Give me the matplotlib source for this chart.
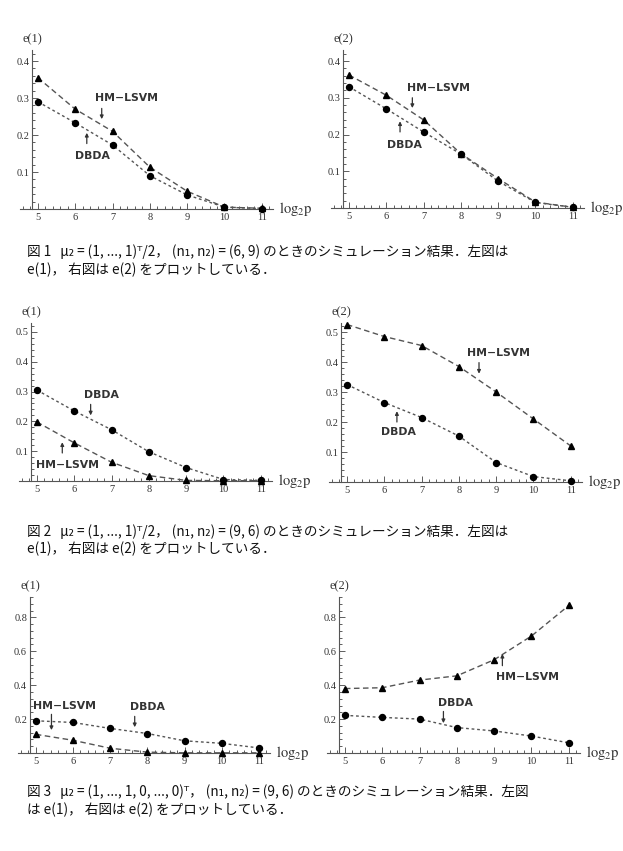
import matplotlib
matplotlib.use("Agg")
import matplotlib.pyplot as plt
from matplotlib.ticker import MultipleLocator, FixedLocator

plt.rcParams['mathtext.fontset'] = 'stix'

log2p = [5, 6, 7, 8, 9, 10, 11]

# Fig 1
f1_e1_hm = [0.355, 0.270, 0.210, 0.113, 0.048, 0.005, 0.002]
f1_e1_db = [0.290, 0.233, 0.173, 0.090, 0.038, 0.005, 0.001]
f1_e2_hm = [0.362, 0.307, 0.240, 0.148, 0.080, 0.016, 0.002]
f1_e2_db = [0.330, 0.270, 0.207, 0.147, 0.073, 0.015, 0.002]
# Fig 2
f2_e1_hm = [0.198, 0.128, 0.063, 0.018, 0.002, 0.001, 0.001]
f2_e1_db = [0.305, 0.235, 0.172, 0.098, 0.045, 0.005, 0.002]
f2_e2_hm = [0.525, 0.485, 0.455, 0.385, 0.300, 0.210, 0.120]
f2_e2_db = [0.325, 0.265, 0.215, 0.153, 0.065, 0.018, 0.004]
# Fig 3
f3_e1_hm = [0.110, 0.075, 0.028, 0.005, 0.001, 0.001, 0.001]
f3_e1_db = [0.190, 0.180, 0.145, 0.115, 0.072, 0.057, 0.030]
f3_e2_hm = [0.380, 0.385, 0.430, 0.455, 0.550, 0.690, 0.870]
f3_e2_db = [0.222, 0.210, 0.200, 0.150, 0.130, 0.100, 0.060]

ylabels = ["e(1)", "e(2)"]

captions = [
    ["図 1   μ₂ = (1, ..., 1)ᵀ/2， (n₁, n₂) = (6, 9) のときのシミュレーション結果．左図は",
     "e(1)， 右図は e(2) をプロットしている．"],
    ["図 2   μ₂ = (1, ..., 1)ᵀ/2， (n₁, n₂) = (9, 6) のときのシミュレーション結果．左図は",
     "e(1)， 右図は e(2) をプロットしている．"],
    ["図 3   μ₂ = (1, ..., 1, 0, ..., 0)ᵀ， (n₁, n₂) = (9, 6) のときのシミュレーション結果．左図",
     "は e(1)， 右図は e(2) をプロットしている．"],
]

W, H = 623, 851
fig = plt.figure(figsize=(W / 100, H / 100), dpi=100)

SERIF = ['Liberation Serif', 'DejaVu Serif']


def make_ax(left_px, top_px, bottom_px, width_px, ymax, ymajor, yminor, ylab):
    ax = fig.add_axes([left_px / W, 1 - bottom_px / H, width_px / W, (bottom_px - top_px) / H])
    ax.set_xlim(4.52, 11.3)
    ax.set_ylim(0, ymax)
    for s in ['top', 'right']:
        ax.spines[s].set_visible(False)
    ax.spines['left'].set_position(('data', 4.84))
    ax.spines['bottom'].set_position(('data', 0))
    ax.spines['left'].set_color('#555555')
    ax.spines['bottom'].set_color('#555555')
    ax.xaxis.set_major_locator(FixedLocator(log2p))
    ax.xaxis.set_minor_locator(MultipleLocator(0.2))
    ax.yaxis.set_major_locator(FixedLocator([v for v in
                                             [ymajor * k for k in range(1, 10)] if v < ymax]))
    ax.yaxis.set_minor_locator(MultipleLocator(yminor))
    ax.tick_params(which='both', direction='in', colors='#444444', labelcolor='#333333',
                   labelsize=7.5, width=0.6)
    ax.tick_params(which='major', length=4)
    ax.tick_params(which='minor', length=2)
    ax.tick_params(axis='x', pad=3)
    ax.tick_params(axis='y', pad=2)
    for lab in ax.get_xticklabels() + ax.get_yticklabels():
        lab.set_family(SERIF)
    ax.set_yticklabels([("%.1f" % v) for v in ax.get_yticks()])
    ax.text(11.45, 0, r"$\mathrm{log}_2\mathrm{p}$", fontsize=10.5, va='center', ha='left',
            color='#333333')
    ax.text(4.84, ymax * 1.03, ylab, fontsize=9, va='bottom', ha='center', family=SERIF,
            color='#333333')
    return ax


def plot_series(ax, hm, db):
    ax.plot(log2p, hm, ls=(0, (4, 2.5)), color='#555555', lw=1.0, marker='^',
            ms=4.5, mfc='black', mec='black', clip_on=False, zorder=3)
    ax.plot(log2p, db, ls=(0, (2, 2)), color='#555555', lw=1.0, marker='o',
            ms=4.3, mfc='black', mec='black', clip_on=False, zorder=3)


def label(ax, text, tx, ty, ax_x, y0, y1):
    ax.text(tx, ty, text, fontsize=7.8, fontweight='bold', ha='center', va='center',
            color='#333333', family='DejaVu Sans')
    ax.annotate('', xy=(ax_x, y1), xytext=(ax_x, y0),
                arrowprops=dict(arrowstyle='-|>', lw=0.9, color='#333333',
                                mutation_scale=5, shrinkA=0, shrinkB=0))


# Row 1
a = make_ax(20, 50, 209, 253, 0.43, 0.1, 0.02, ylabels[0])
plot_series(a, f1_e1_hm, f1_e1_db)
label(a, "HM−LSVM", 7.38, 0.30, 6.71, 0.272, 0.243)
label(a, "DBDA", 6.47, 0.142, 6.31, 0.177, 0.206)

a = make_ax(331, 50, 208, 253, 0.43, 0.1, 0.02, ylabels[1])
plot_series(a, f1_e2_hm, f1_e2_db)
label(a, "HM−LSVM", 7.39, 0.327, 6.70, 0.300, 0.272)
label(a, "DBDA", 6.49, 0.172, 6.37, 0.207, 0.236)

# Row 2
a = make_ax(19, 323, 481, 253, 0.53, 0.1, 0.02, ylabels[0])
plot_series(a, f2_e1_hm, f2_e1_db)
label(a, "DBDA", 6.72, 0.289, 6.44, 0.257, 0.220)
label(a, "HM−LSVM", 5.82, 0.054, 5.68, 0.094, 0.130)

a = make_ax(329, 323, 482, 253, 0.53, 0.1, 0.02, ylabels[1])
plot_series(a, f2_e2_hm, f2_e2_db)
label(a, "HM−LSVM", 9.07, 0.43, 8.54, 0.398, 0.361)
label(a, "DBDA", 6.39, 0.167, 6.34, 0.200, 0.236)

# Row 3
a = make_ax(18, 597, 753, 252, 0.92, 0.2, 0.04, ylabels[0])
plot_series(a, f3_e1_hm, f3_e1_db)
label(a, "HM−LSVM", 5.78, 0.279, 5.42, 0.228, 0.135)
label(a, "DBDA", 8.0, 0.273, 7.66, 0.216, 0.152)

a = make_ax(327, 597, 753, 253, 0.92, 0.2, 0.04, ylabels[1])
plot_series(a, f3_e2_hm, f3_e2_db)
label(a, "HM−LSVM", 9.89, 0.45, 9.22, 0.515, 0.585)
label(a, "DBDA", 7.95, 0.296, 7.64, 0.245, 0.176)

# Captions
cap_y = [(252, 270), (532, 549), (792, 810)]
for (l1, l2), (y1, y2) in zip(captions, cap_y):
    fig.text(27 / W, 1 - y1 / H, l1, fontsize=9.8, va='center', ha='left',
             family=['Noto Sans CJK JP', 'DejaVu Sans'], color='#111111')
    fig.text(27 / W, 1 - y2 / H, l2, fontsize=9.8, va='center', ha='left',
             family=['Noto Sans CJK JP', 'DejaVu Sans'], color='#111111')

fig.savefig("out.png", dpi=100, facecolor='white')
